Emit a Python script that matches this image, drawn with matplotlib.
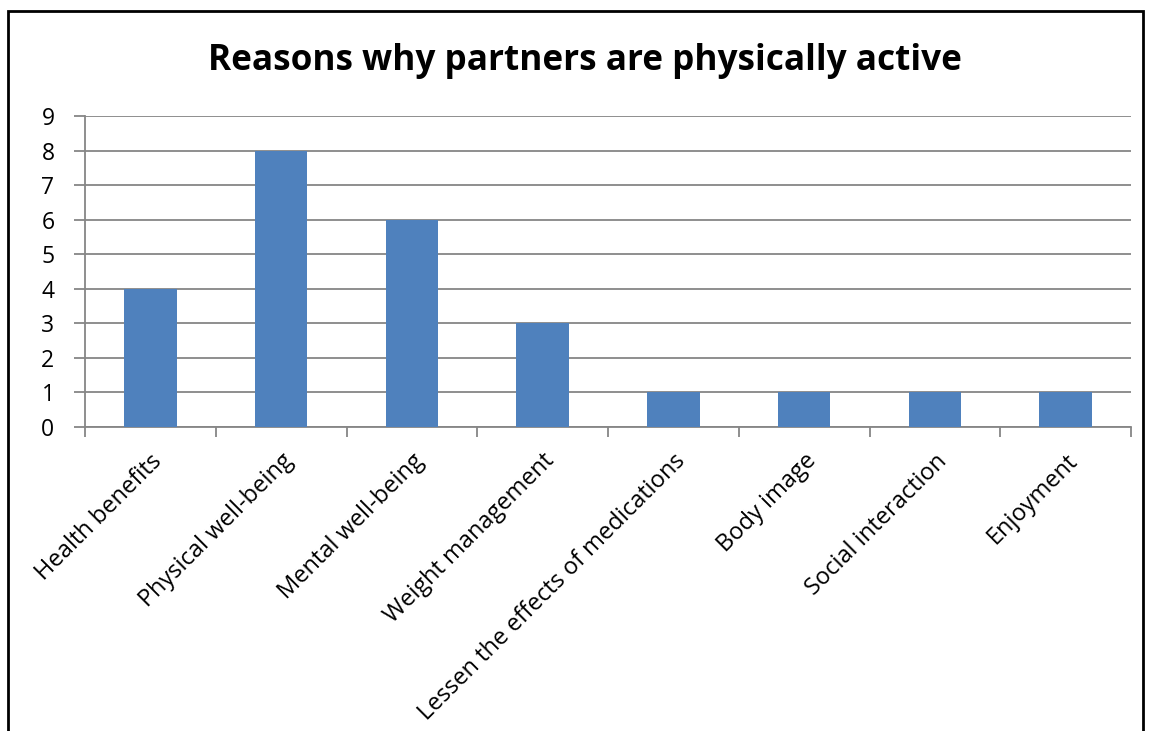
import matplotlib
matplotlib.use("Agg")
import matplotlib.pyplot as plt
import numpy as np
from matplotlib.patches import Rectangle

# data
reasons = ["Health benefits", "Physical well-being", "Mental well-being",
           "Weight management", "Lessen the effects of medications",
           "Body image", "Social interaction", "Enjoyment"]
counts = [4, 8, 6, 3, 1, 1, 1, 1]
yticks = list(range(0, 10))

plt.rcParams['font.family'] = ['Open Sans', 'DejaVu Sans']

fig = plt.figure(figsize=(11.53, 7.31), dpi=100)
ax = fig.add_axes([85/1153, 1-427/731, (1131-85)/1153, (427-116)/731])

x = np.arange(len(reasons))
ax.bar(x, counts, width=0.4, color="#4F81BD", zorder=3)

grid_c = "#868686"
ax.set_xlim(-0.5, len(reasons)-0.5)
ax.set_ylim(0, 9)
ax.set_yticks(yticks)
ax.set_yticklabels([str(v) for v in yticks], fontsize=16.5)
ax.yaxis.grid(True, color=grid_c, linewidth=1.3, zorder=0)
ax.tick_params(axis='y', length=8, width=1.3, color=grid_c, pad=14)

# category labels, ticks at boundaries
ax.set_xticks(x)
ax.set_xticklabels(reasons, rotation=45, ha='right', rotation_mode='anchor', fontsize=17)
ax.tick_params(axis='x', length=0, pad=16)
ax.set_xticks(np.arange(-0.5, len(reasons)), minor=True)
ax.tick_params(axis='x', which='minor', length=7, width=1.3, color=grid_c)

for s in ['top', 'right']:
    ax.spines[s].set_visible(False)
for s in ['left', 'bottom']:
    ax.spines[s].set_color(grid_c)
    ax.spines[s].set_linewidth(1.3)

fig.text(585/1153, 1-61/731, "Reasons why partners are physically active",
         ha='center', va='center', fontsize=25.3, fontweight='bold')

# outer frame (bottom edge is off the picture)
fig.patches.append(Rectangle((8/1153, -0.05), (1143-8)/1153, 1.05-11/731,
                             transform=fig.transFigure, fill=False,
                             edgecolor='black', linewidth=2))

fig.savefig("out.png", dpi=100)
